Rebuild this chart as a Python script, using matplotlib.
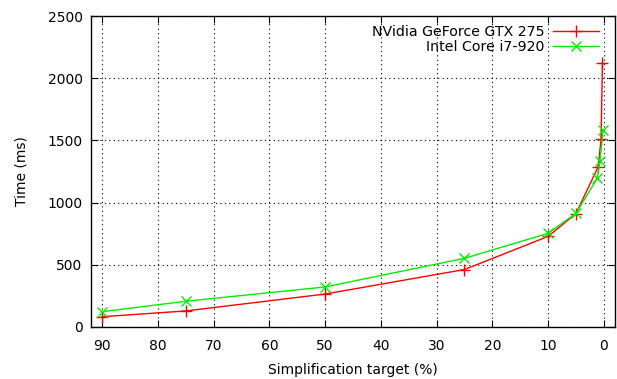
import matplotlib
matplotlib.use("Agg")
import matplotlib.pyplot as plt

targets_gpu = [90, 75, 50, 25, 10, 5, 1, 0.5, 0.25]
time_gpu = [83, 129, 265, 462, 728, 912, 1289, 1509, 2125]
targets_cpu = [90, 75, 50, 25, 10, 5, 1.2, 0.7, 0.15]
time_cpu = [123, 207, 322, 552, 753, 914, 1195, 1334, 1585]

label_gpu = "NVidia GeForce GTX 275"
label_cpu = "Intel Core i7-920"

plt.rcParams['font.family'] = ['DejaVu Sans']
fig = plt.figure(figsize=(6.17, 3.79), dpi=100)
ax = fig.add_axes([91/617, 1 - 327/379, (615-91)/617, (327-16)/379])

ax.plot(targets_gpu, time_gpu, color='#ff0000', lw=1.0, marker='+', ms=8.5, mew=1.0, label=label_gpu)
ax.plot(targets_cpu, time_cpu, color='#00ee00', lw=1.0, marker='x', ms=7.5, mew=1.0, label=label_cpu)

ax.set_xlim(92, -2)
ax.set_ylim(0, 2500)
ax.set_xticks(range(0, 91, 10))
ax.set_yticks(range(0, 2501, 500))
ax.tick_params(direction='in', top=True, right=True, length=5, width=0.8, labelsize=10, pad=6)
ax.tick_params(axis='x', pad=9)
ax.grid(True, color='black', linestyle=(0, (1, 3)), linewidth=0.8)
for s in ax.spines.values():
    s.set_linewidth(1.0)
ax.set_xlabel("Simplification target (%)", fontsize=10, labelpad=7)
ax.set_ylabel("Time (ms)", fontsize=10, labelpad=14)
leg = ax.legend(loc='upper right', frameon=False, markerfirst=False, fontsize=10.2,
                handlelength=3.2, handletextpad=0.6, borderaxespad=0.2, borderpad=0.4,
                labelspacing=0.12, bbox_to_anchor=(0.985, 1.0))
for col in leg._legend_handle_box.get_children():
    col.align = "right"
fig.savefig("out.png", dpi=100)
